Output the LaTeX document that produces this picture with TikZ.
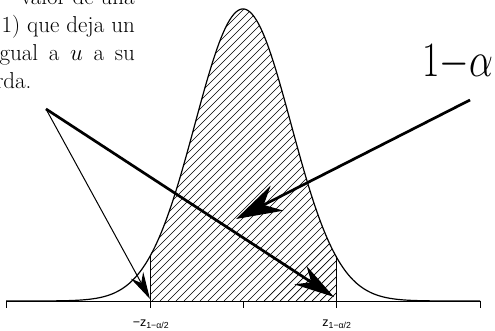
\RequirePackage{fix-cm}
\documentclass[tikz,border=0pt]{standalone}
\usepackage{fontspec}
\newfontfamily\lblfont{Liberation Sans}
\usetikzlibrary{arrows.meta}
\begin{document}
\begin{tikzpicture}[x=1pt,y=-1pt,
  curve/.style={line width=1.2pt},
  axisline/.style={line width=0.9pt},
  hatch/.style={line width=0.7pt},
  txt/.style={inner sep=0pt,font=\fontsize{23}{28}\selectfont},
  lbl/.style={inner sep=0pt,font=\lblfont\fontsize{12.5}{14}\selectfont},
  thinarrow/.style={line width=1pt,-{Stealth[length=27pt,width=14pt]}},
  thickarrow/.style={line width=2.7pt,-{Stealth[length=40pt,width=22pt]}},
  bigarrow/.style={line width=2.7pt,-{Stealth[length=46pt,width=28pt]}}]
\useasboundingbox (0,0) rectangle (495,331);
\clip (0,0) rectangle (495,331);
% hatching
\begin{scope}
\clip plot[domain=150:336,samples=120,smooth] (\x,{301-292*exp(-((\x-243)/48)^2/2)}) -- (336,301) -- (150,301) -- cycle;
\foreach \k in {-160,-152,...,340} {\draw[hatch] (\k,301) -- (\k+300,1);}
\end{scope}
% axis and ticks
\coordinate (a0) at (6,301);
\coordinate (a1) at (480,301);
\draw[axisline] (a0) -- (a1);
\foreach \t/\n in {6/t0,150/t1,243/t2,336/t3,480/t4} {
  \coordinate (\n) at (\t,301);
  \draw[axisline] (\n) -- ++(0,7);
}
% bell curve
\draw[curve] plot[domain=6:480,samples=240,smooth] (\x,{301-292*exp(-((\x-243)/48)^2/2)});
% vertical bounds
\coordinate (v1) at (150,{301-292*exp(-((150-243)/48)^2/2)});
\coordinate (v3) at (336,{301-292*exp(-((336-243)/48)^2/2)});
\draw[axisline] (t1) -- (v1);
\draw[axisline] (t3) -- (v3);
% labels
\node[lbl,anchor=base] (lz1) at (151,326) {−z\textsubscript{1−α/2}};
\node[lbl,anchor=base] (lz2) at (337,326) {z\textsubscript{1−α/2}};
% text block
\node[txt,anchor=base east] (l1) at (135,5) {valor de una};
\node[txt,anchor=base east] (l2) at (135,33) {N(0,1) que deja un};
\node[txt,anchor=base east] (l3) at (135,61) {\makebox[141pt][s]{igual a $u$ a su}};
\node[txt,anchor=base west] (l4) at (-58,89) {izquierda.};
% 1-alpha
\node[inner sep=0pt,anchor=base west,yscale=1.3,font=\fontsize{38}{44}\selectfont] (alpha) at (422,77) {$1{-}\alpha$};
% arrows
\coordinate (src) at (46,109);
\coordinate (tipL) at (150,299);
\coordinate (tipR) at (334,297);
\coordinate (srcA) at (470,100);
\coordinate (tipA) at (236,219);
\draw[thinarrow] (src) -- (tipL);
\draw[thickarrow] (src) -- (tipR);
\draw[bigarrow] (srcA) -- (tipA);
\end{tikzpicture}
\end{document}
